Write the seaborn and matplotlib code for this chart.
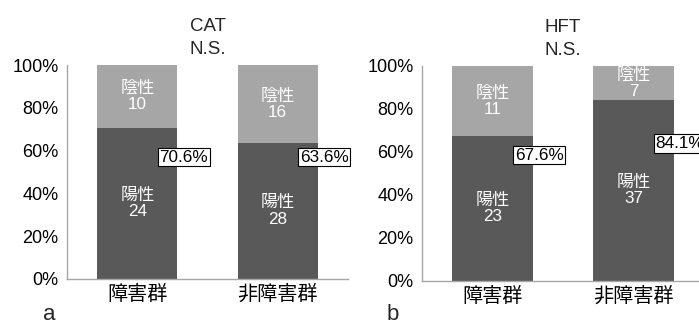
import matplotlib
matplotlib.use("Agg")
import matplotlib.pyplot as plt
import seaborn as sns
import pandas as pd

sns.set_theme(style="white")
plt.rcParams['font.family'] = ['Liberation Sans', 'Noto Sans CJK JP', 'DejaVu Sans']

groups = ["障害群", "非障害群"]
titles = ["CAT\nN.S.", "HFT\nN.S."]
panel_letters = ["a", "b"]
cat_pos = [24, 28]
cat_neg = [10, 16]
hft_pos = [23, 37]
hft_neg = [11, 7]
pos_label = "陽性"
neg_label = "陰性"

# layout (not data)
pct_label_y = [[0.57, 0.57], [0.585, 0.64]]

DARK = "#595959"
LIGHT = "#a6a6a6"
SPINE = "#a6a6a6"

fig = plt.figure(figsize=(6.99, 3.27), dpi=100)
ax1 = fig.add_axes([0.0959, 0.1468, 0.4020, 0.6544])
ax2 = fig.add_axes([0.6037, 0.1407, 0.4034, 0.6575])

panels = [(ax1, cat_pos, cat_neg), (ax2, hft_pos, hft_neg)]
for k, (ax, pos, neg) in enumerate(panels):
    tot = [p + n for p, n in zip(pos, neg)]
    frac = [p / t for p, t in zip(pos, tot)]
    df = pd.DataFrame({"group": groups, "total": [1.0] * len(groups), "frac": frac})
    sns.barplot(data=df, x="group", y="total", color=LIGHT, width=0.57,
                saturation=1, ax=ax, zorder=0.3, linewidth=0)
    sns.barplot(data=df, x="group", y="frac", color=DARK, width=0.57,
                saturation=1, ax=ax, zorder=1, linewidth=0)
    for i in range(len(groups)):
        ax.text(i, (1 + frac[i]) / 2, f"{neg_label}\n{neg[i]}", ha="center", va="center",
                color="white", fontsize=12.3, linespacing=1.1, zorder=0.6)
        ax.text(i, frac[i] / 2, f"{pos_label}\n{pos[i]}", ha="center", va="center",
                color="white", fontsize=12.3, linespacing=1.1, zorder=3)
        ax.text(i + 0.33, pct_label_y[k][i], f"{frac[i]*100:.1f}%", ha="center", va="center",
                color="black", fontsize=12.3, zorder=4,
                bbox=dict(boxstyle="square,pad=0.1", facecolor="white", edgecolor="black", linewidth=0.8))
    ax.set_xlim(-0.5, 1.5)
    ax.set_ylim(0, 1)
    ax.set_yticks([0, 0.2, 0.4, 0.6, 0.8, 1.0])
    ax.set_yticklabels([f"{int(v*100)}%" for v in [0, 0.2, 0.4, 0.6, 0.8, 1.0]])
    ax.tick_params(axis="y", length=0, pad=6, labelsize=13, colors="black")
    ax.tick_params(axis="x", length=0, pad=4, labelsize=14.5, colors="black")
    ax.set_xlabel("")
    ax.set_ylabel("")
    for s in ["top", "right"]:
        ax.spines[s].set_visible(False)
    for s in ["left", "bottom"]:
        ax.spines[s].set_color(SPINE)
        ax.spines[s].set_linewidth(1.0)
    ax.set_title(titles[k], fontsize=13.5, pad=8, linespacing=1.45, ma="center")
    ax.patch.set_alpha(0)

fig.text(49 / 699, 1 - 314 / 327, panel_letters[0], fontsize=16, ha="center", va="center")
fig.text(393 / 699, 1 - 314 / 327, panel_letters[1], fontsize=16, ha="center", va="center")

fig.savefig("out.png", dpi=100)
